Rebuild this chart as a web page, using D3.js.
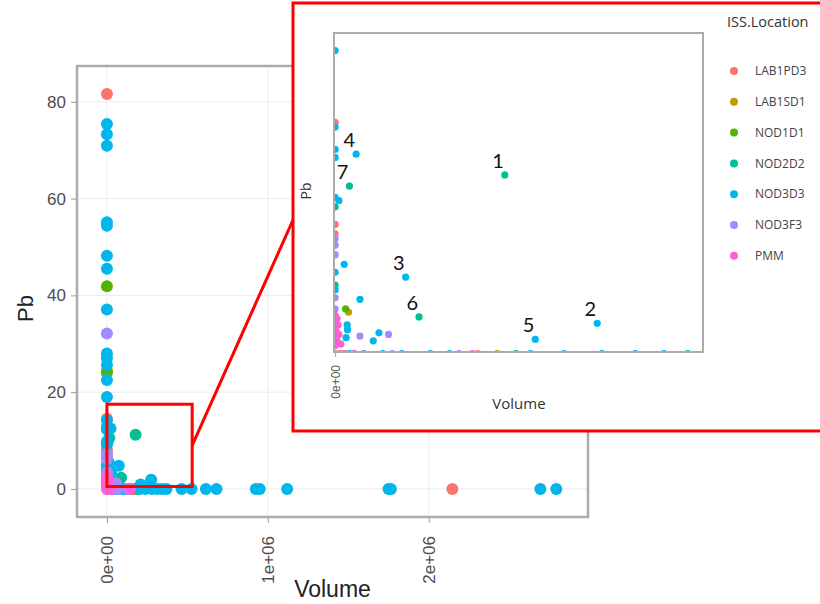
<!DOCTYPE html>
<html>
<head>
<meta charset="utf-8">
<script src="https://cdn.jsdelivr.net/npm/d3@7"></script>
<style>
  body { margin: 0; background: #fff; }
  svg { display: block; font-family: "Open Sans", Arial, sans-serif; }
</style>
</head>
<body>
<svg></svg>
<script>
const width = 820;
const height = 604;

// categories and colours (ggplot hue palette)
const locations = ["LAB1PD3", "LAB1SD1", "NOD1D1", "NOD2D2", "NOD3D3", "NOD3F3", "PMM"];
const locationColors = ["#F8766D", "#C49A00", "#53B400", "#00C094", "#00B6EB", "#A58AFF", "#FB61D7"];

// points per location : [Volume, Pb]
const lab1pd3 = [[0, 81.6], [0, 14.5], [0, 8.1], [0, 7.5], [5000, 0], [150000, 0], [2147000, 0]];
const lab1sd1 = [[0, 24.5], [14000, 2.6], [170000, 0]];
const nod1d1 = [[0, 41.9], [0, 24.0], [11000, 2.8], [10000, 0]];
const nod2d2 = [[178000, 11.2], [88000, 2.3], [15000, 10.5], [0, 9.2], [0, 4.3], [190000, 0], [20000, 0]];
const nod3d3 = [
  [0, 75.4], [0, 73.3], [0, 70.9], [0, 55.1], [0, 54.4], [0, 48.2], [0, 45.5], [0, 37.1],
  [0, 28.0], [0, 27.0], [0, 25.6], [0, 22.5], [0, 19.0], [0, 14.2], [0, 12.8], [0, 12.3],
  [0, 9.8], [4000, 9.6], [9500, 5.6], [0, 5.1], [0, 4.0], [26000, 3.4], [12600, 1.8],
  [13000, 1.5], [11500, 1.0], [40000, 0.8], [46000, 1.3],
  [22000, 12.5], [74000, 4.8], [210000, 0.9], [275000, 1.9],
  [15000, 0], [30000, 0], [50000, 0], [70000, 0], [100000, 0], [120000, 0], [205000, 0],
  [240000, 0], [280000, 0], [315000, 0], [345000, 0], [370000, 0], [464000, 0], [526000, 0],
  [615000, 0], [681000, 0], [925000, 0], [950000, 0], [1120000, 0], [1750000, 0],
  [1765000, 0], [2694000, 0], [2793000, 0]
];
const nod3f3 = [[0, 32.1], [0, 7.2], [0, 6.8], [0, 6.2], [0, 3.5], [0, 2.8], [26000, 1.1], [56000, 1.2],
  [30000, 0], [60000, 0], [130000, 0]];
const pmm = [[0, 2.4], [2000, 2.2], [0, 2.0], [3000, 1.8], [0, 1.6], [1000, 1.4], [4000, 1.2], [0, 1.0],
  [2000, 0.8], [6000, 0.6], [0, 0.5], [0, 0], [10000, 0], [20000, 0], [144000, 0]];
const seriesList = [lab1pd3, lab1sd1, nod1d1, nod2d2, nod3d3, nod3f3, pmm];

// tick values
const mainTicksX = [0, 1e6, 2e6];
const mainTicksY = [0, 20, 40, 60, 80];
const insetTicksX = [0];

// numbered points in the zoomed view
const labelText = ["1", "2", "3", "4", "5", "6", "7"];
const labelPoints = [[178000, 11.2], [275000, 1.9], [74000, 4.8], [22000, 12.5], [210000, 0.9], [88000, 2.3], [15000, 10.5]];

// region zoomed in the inset
const zoomVol = [0, 530000];
const zoomPb = [0.5, 17.5];

let svg = d3.select("svg")
    .attr("width", width)
    .attr("height", height);

// flatten series into one table
let points = [];
seriesList.forEach((s, i) => {
  s.forEach(p => points.push({vol: p[0], pb: p[1], loc: locations[i]}));
});
const color = d3.scaleOrdinal().domain(locations).range(locationColors);

const fmtSci = v => v === 0 ? "0e+00" : d3.format(".0e")(v).replace("e+", "e+0");
const axisFont = "Arial, 'Liberation Sans', sans-serif";

// ---------- main panel ----------
const main = {left: 77, right: 588, top: 66, bottom: 517};
const scX = d3.scaleLinear().domain([-186000, 2990000]).range([main.left, main.right]);
const scY = d3.scaleLinear().domain([-5.8, 87.4]).range([main.bottom, main.top]);

svg.append("g").selectAll("line.gy")
  .data(mainTicksY).enter().append("line")
  .attr("x1", main.left).attr("x2", main.right)
  .attr("y1", d => scY(d)).attr("y2", d => scY(d))
  .attr("stroke", "#ebebeb").attr("stroke-width", 1);
svg.append("g").selectAll("line.gx")
  .data(mainTicksX).enter().append("line")
  .attr("y1", main.top).attr("y2", main.bottom)
  .attr("x1", d => scX(d)).attr("x2", d => scX(d))
  .attr("stroke", "#ebebeb").attr("stroke-width", 1);

svg.append("g").selectAll("circle")
  .data(points).enter().append("circle")
  .attr("cx", d => scX(d.vol))
  .attr("cy", d => scY(d.pb))
  .attr("r", 6)
  .attr("fill", d => color(d.loc));

svg.append("rect")
  .attr("x", main.left).attr("y", main.top)
  .attr("width", main.right - main.left).attr("height", main.bottom - main.top)
  .attr("fill", "none").attr("stroke", "#ababab").attr("stroke-width", 2.5);

let axY = svg.append("g")
  .attr("transform", `translate(${main.left - 1}, 0)`)
  .call(d3.axisLeft(scY).tickValues(mainTicksY).tickSize(5).tickPadding(5));
axY.select(".domain").remove();
axY.selectAll("line").attr("stroke", "#999");
axY.selectAll("text").attr("fill", "#4d4d4d").style("font-size", "17px")
  .style("font-family", axisFont);

let axX = svg.append("g")
  .attr("transform", `translate(0, ${main.bottom + 1})`)
  .call(d3.axisBottom(scX).tickValues(mainTicksX).tickSize(5).tickFormat(fmtSci));
axX.select(".domain").remove();
axX.selectAll("line").attr("stroke", "#999");
axX.selectAll("text")
  .attr("fill", "#4d4d4d").style("font-size", "17px")
  .style("font-family", axisFont)
  .style("text-anchor", "end")
  .attr("y", 0).attr("x", -18).attr("dy", "0.35em")
  .attr("transform", "rotate(-90)");

svg.append("text")
  .attr("x", (main.left + main.right) / 2)
  .attr("y", 597)
  .attr("text-anchor", "middle")
  .style("font-size", "23px").style("font-family", axisFont)
  .attr("fill", "#222").text("Volume");
svg.append("text")
  .attr("transform", `translate(33, ${(main.top + main.bottom) / 2 + 17}) rotate(-90)`)
  .attr("text-anchor", "middle")
  .style("font-size", "22px").style("font-family", axisFont)
  .attr("fill", "#222").text("Pb");

// red box marking zoomed region + connector
svg.append("rect")
  .attr("x", scX(zoomVol[0])).attr("y", scY(zoomPb[1]))
  .attr("width", scX(zoomVol[1]) - scX(zoomVol[0]))
  .attr("height", scY(zoomPb[0]) - scY(zoomPb[1]))
  .attr("fill", "none").attr("stroke", "#ff0000").attr("stroke-width", 3);

const frame = {x: 293, y: 3, w: 600, h: 428};
svg.append("line")
  .attr("x1", scX(zoomVol[1])).attr("y1", scY(9))
  .attr("x2", frame.x).attr("y2", 220)
  .attr("stroke", "#ff0000").attr("stroke-width", 3);

// ---------- inset ----------
svg.append("rect")
  .attr("x", frame.x).attr("y", frame.y).attr("width", frame.w).attr("height", frame.h)
  .attr("fill", "#fff").attr("stroke", "#ff0000").attr("stroke-width", 3);

const ins = {left: 334, right: 703, top: 33, bottom: 352};
const inX = d3.scaleLinear().domain([-1200, 386000]).range([ins.left, ins.right]);
const inY = d3.scaleLinear().domain([0.1, 20.1]).range([ins.bottom, ins.top]);

svg.append("clipPath").attr("id", "insClip")
  .append("rect")
  .attr("x", ins.left).attr("y", ins.top)
  .attr("width", ins.right - ins.left).attr("height", ins.bottom - ins.top - 1);

svg.append("g").attr("clip-path", "url(#insClip)")
  .selectAll("circle")
  .data(points).enter().append("circle")
  .attr("cx", d => inX(d.vol))
  .attr("cy", d => inY(d.pb))
  .attr("r", 3.6)
  .attr("fill", d => color(d.loc));

svg.append("rect")
  .attr("x", ins.left).attr("y", ins.top)
  .attr("width", ins.right - ins.left).attr("height", ins.bottom - ins.top)
  .attr("fill", "none").attr("stroke", "#ababab").attr("stroke-width", 2);

let inAxX = svg.append("g")
  .attr("transform", `translate(0, ${ins.bottom + 1})`)
  .call(d3.axisBottom(inX).tickValues(insetTicksX).tickSize(4).tickFormat(fmtSci));
inAxX.select(".domain").remove();
inAxX.selectAll("line").attr("stroke", "#999");
inAxX.selectAll("text")
  .attr("fill", "#555").style("font-size", "12px")
  .style("text-anchor", "end")
  .attr("y", 0).attr("x", -12).attr("dy", "0.35em")
  .attr("transform", "rotate(-90)");

svg.append("text")
  .attr("x", 519).attr("y", 409)
  .attr("text-anchor", "middle")
  .style("font-size", "15px").attr("fill", "#333").text("Volume");
svg.append("text")
  .attr("transform", "translate(311, 191) rotate(-90)")
  .attr("text-anchor", "middle")
  .style("font-size", "14px").attr("fill", "#333").text("Pb");

// numbered annotations
svg.append("g").selectAll("text")
  .data(labelPoints).enter().append("text")
  .attr("x", d => inX(d[0]) - 1)
  .attr("y", d => inY(d[1]) - 7)
  .attr("text-anchor", "end")
  .style("font-family", "Lato, 'Open Sans', sans-serif")
  .style("font-size", "20px").attr("fill", "#111")
  .text((d, i) => labelText[i]);

// legend
svg.append("text")
  .attr("x", 727).attr("y", 27)
  .style("font-size", "14.5px").attr("fill", "#333").text("ISS.Location");
let leg = svg.append("g").selectAll("g")
  .data(locations).enter().append("g")
  .attr("transform", (d, i) => `translate(734, ${71 + i * 30.8})`);
leg.append("circle").attr("r", 4).attr("fill", d => color(d));
leg.append("text").attr("x", 21).attr("dy", "0.35em")
  .style("font-size", "12px").attr("fill", "#444").text(d => d);
</script>
</body>
</html>
